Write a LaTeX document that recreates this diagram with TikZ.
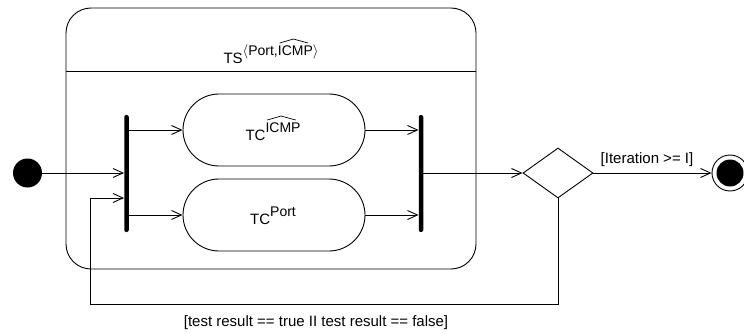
\documentclass[tikz,border=0pt]{standalone}
\usepackage{fontspec}
\setmainfont{Liberation Sans}
\usetikzlibrary{arrows.meta,shapes.geometric}
\tikzset{
  flow/.style={draw, line width=0.9pt, -{Straight Barb[length=10pt,width=9pt,line width=0.9pt]}},
  bar/.style={fill=black, draw=none, rounded corners=2pt, minimum width=4.5pt, minimum height=117pt, inner sep=0pt},
  action/.style={draw, line width=0.9pt, rounded corners=36pt, minimum width=182pt, minimum height=72pt, inner sep=0pt},
  lbl/.style={font=\fontsize{15}{17}\selectfont, inner sep=0pt, anchor=base}
}
% raised exponent text
\newcommand{\supx}[1]{\raisebox{8pt}{\fontsize{14}{16}\selectfont #1}}
% word with a drawn hat over it
\newcommand{\hatword}[1]{\tikz[baseline=(hw.base)]{%
  \node[inner sep=0pt] (hw) {#1};
  \draw[line width=0.7pt] ([xshift=2pt,yshift=3pt]hw.north west)
    -- ([xshift=-2pt,yshift=7pt]hw.north)
    -- ([xshift=-5pt,yshift=3pt]hw.north east);}}
\begin{document}
\begin{tikzpicture}[x=1pt,y=-1pt]
  \useasboundingbox (0,0) rectangle (744,334);

  % composite state with title compartment
  \draw[line width=0.9pt, rounded corners=25pt] (66,8) rectangle (476,269);
  \draw[line width=0.9pt] (66,71) -- (476,71);
  \node[lbl] (title) at (271,64)
    {TS\supx{$\langle$Port,\hatword{ICMP}$\rangle$}};

  % initial and final nodes
  \node[circle, fill=black, minimum size=29pt, inner sep=0pt] (init) at (27.5,173) {};
  \node[circle, draw, line width=0.9pt, minimum size=36pt, inner sep=0pt] (final) at (730,173) {};
  \node[circle, fill=black, minimum size=27pt, inner sep=0pt] (finalin) at (730,173) {};

  % fork and join bars
  \node[bar] (fork) at (126.5,173.5) {};
  \node[bar] (join) at (421,173.5) {};

  % parallel actions
  \node[action] (icmp) at (274,130) {};
  \node[action] (port) at (274,215) {};
  \node[lbl] (icmpT) at (273,141) {TC\supx{\hatword{ICMP}}};
  \node[lbl] (portT) at (273,224) {TC\supx{Port}};

  % decision
  \node[diamond, draw, line width=0.9pt, aspect=1.4, minimum width=70pt, minimum height=50pt, inner sep=0pt] (dec) at (558,173) {};

  % loop-back corner points
  \coordinate (lpA) at (558,304);
  \coordinate (lpB) at (90,304);
  \coordinate (lpC) at (90,198);

  % control flows
  \draw[flow] (init) -- (init -| fork.west);
  \draw[flow] (fork.east |- icmp) -- (icmp.west);
  \draw[flow] (fork.east |- port) -- (port.west);
  \draw[flow] (icmp.east) -- (icmp -| join.west);
  \draw[flow] (port.east) -- (port -| join.west);
  \draw[flow] (join.east |- dec) -- (dec.west);
  \draw[flow] (dec.east) -- (final.west);
  \draw[flow] (dec.south) -- (lpA) -- (lpB) -- (lpC) -- (lpC -| fork.west);

  % guards
  \node[lbl] (guard1) at (647,164) {[Iteration >= I]};
  \node[lbl] (guard2) at (316,326) {[test result == true II test result == false]};
\end{tikzpicture}
\end{document}
